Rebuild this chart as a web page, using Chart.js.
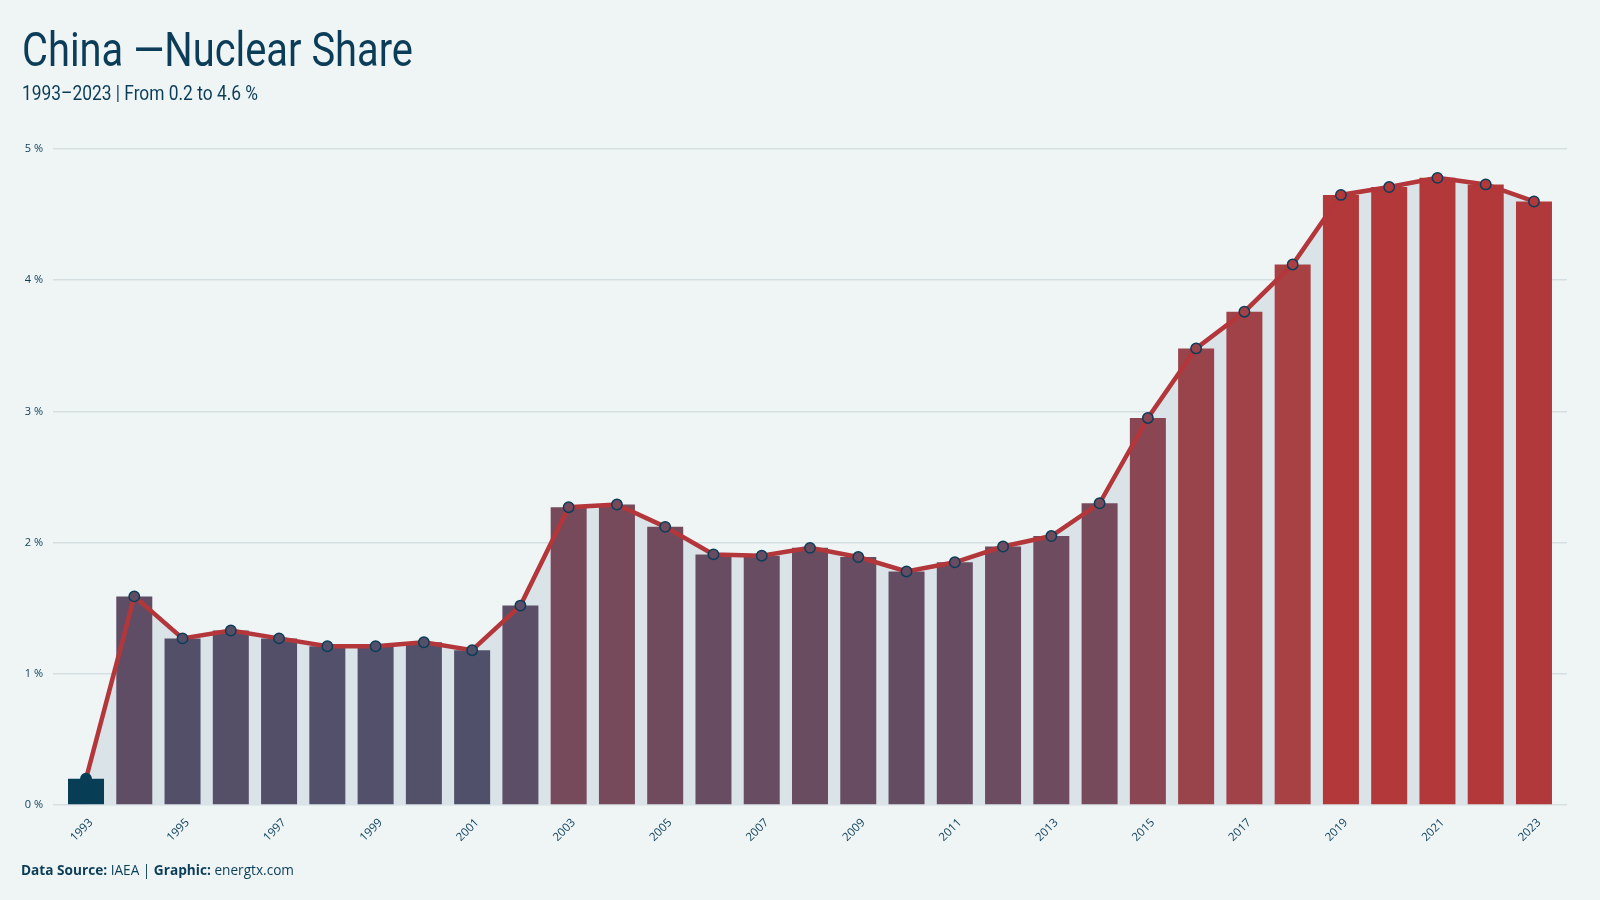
<!DOCTYPE html>
<html>
<head>
<meta charset="utf-8">
<script src="https://cdn.jsdelivr.net/npm/chart.js@4.4.1/dist/chart.umd.min.js"></script>
<style>
  html, body { margin: 0; padding: 0; background: #eff5f5; }
  #wrap { position: relative; width: 1600px; height: 900px; background: #eff5f5; overflow: hidden; }
  #chart { position: absolute; left: 0; top: 0; width: 1600px; height: 900px; }
  .txt { position: absolute; white-space: nowrap; color: #0b3d59; transform-origin: 0 0; }
  #title { left: 22px; top: 26px; font: 400 48px/48px Roboto, sans-serif; }
  #subtitle { left: 22px; top: 83px; font: 400 20px/20px Roboto, sans-serif; }
  #footer { left: 21px; top: 863px; font: 400 14.5px/14.5px "Open Sans", sans-serif; }
  #footer b { font-weight: 700; }
</style>
</head>
<body>
<div id="wrap">
  <canvas id="chart" width="1600" height="900"></canvas>
  <div id="title" class="txt" data-w="391">China —Nuclear Share</div>
  <div id="subtitle" class="txt" data-w="236">1993–2023 | From 0.2 to 4.6 %</div>
  <div id="footer" class="txt" data-w="273"><b>Data Source:</b> IAEA | <b>Graphic:</b> energtx.com</div>
</div>
<script>
// ---- data ----
const years = [1993, 1994, 1995, 1996, 1997, 1998, 1999, 2000, 2001, 2002,
               2003, 2004, 2005, 2006, 2007, 2008, 2009, 2010, 2011, 2012,
               2013, 2014, 2015, 2016, 2017, 2018, 2019, 2020, 2021, 2022, 2023];
const nuclearShare = [0.20, 1.59, 1.27, 1.33, 1.27, 1.21, 1.21, 1.24, 1.18, 1.52,
                      2.27, 2.29, 2.12, 1.91, 1.90, 1.96, 1.89, 1.78, 1.85, 1.97,
                      2.05, 2.30, 2.95, 3.48, 3.76, 4.12, 4.65, 4.71, 4.78, 4.73, 4.60];
const xTickYears = [1993, 1995, 1997, 1999, 2001, 2003, 2005, 2007, 2009, 2011,
                    2013, 2015, 2017, 2019, 2021, 2023];
const yTickValues = [0, 1, 2, 3, 4, 5];

// ---- colour scale (style) ----
const colorStops = [
  [0.20, [8, 61, 86]],
  [1.20, [82, 80, 106]],
  [1.60, [95, 77, 101]],
  [1.90, [104, 76, 97]],
  [2.30, [119, 74, 91]],
  [2.95, [138, 70, 82]],
  [3.50, [154, 67, 75]],
  [4.12, [168, 65, 68]],
  [4.65, [179, 56, 58]]
];
function colorFor(v) {
  if (v <= colorStops[0][0]) return rgb(colorStops[0][1]);
  for (let i = 1; i < colorStops.length; i++) {
    const [v1, c1] = colorStops[i];
    const [v0, c0] = colorStops[i - 1];
    if (v <= v1) {
      const t = (v - v0) / (v1 - v0);
      return rgb(c0.map((c, k) => c + (c1[k] - c) * t));
    }
  }
  return rgb(colorStops[colorStops.length - 1][1]);
}
function rgb(c) { return `rgb(${c.map(Math.round).join(',')})`; }

const points = years.map((y, i) => ({ x: y, y: nuclearShare[i] }));
const barColors = nuclearShare.map(colorFor);

const navy = '#0b3d59';

new Chart(document.getElementById('chart'), {
  data: {
    datasets: [
      {
        type: 'line',
        data: points,
        borderColor: '#b3373a',
        borderWidth: 4.5,
        tension: 0,
        fill: 'origin',
        backgroundColor: '#dae4e8',
        pointRadius: 5.2,
        pointBorderWidth: 1.5,
        pointBorderColor: navy,
        pointBackgroundColor: barColors,
        order: 0
      },
      {
        type: 'bar',
        data: points,
        backgroundColor: barColors,
        borderWidth: 0,
        categoryPercentage: 1,
        barPercentage: 0.746,
        order: 1
      }
    ]
  },
  options: {
    responsive: false,
    animation: false,
    layout: { padding: { left: 0, right: 33, top: 149, bottom: 0 } },
    plugins: {
      legend: { display: false },
      tooltip: { enabled: false },
      filler: { drawTime: 'beforeDatasetsDraw' }
    },
    scales: {
      x: {
        type: 'linear',
        offset: false,
        min: years[0] - 0.684,
        max: years[years.length - 1] + 0.684,
        grid: { display: false },
        border: { display: false },
        afterBuildTicks: axis => { axis.ticks = xTickYears.map(v => ({ value: v })); },
        afterFit: axis => { axis.height = 95; },
        ticks: {
          color: navy,
          font: { family: '"Open Sans", sans-serif', size: 11.5 },
          minRotation: 45,
          maxRotation: 45,
          padding: 3,
          labelOffset: 5,
          autoSkip: false,
          callback: v => String(v)
        }
      },
      y: {
        type: 'linear',
        min: 0,
        max: 5,
        afterBuildTicks: axis => { axis.ticks = yTickValues.map(v => ({ value: v })); },
        afterFit: axis => { axis.width = 53; },
        grid: { color: '#d5dfe1', lineWidth: 1.5, drawTicks: false },
        border: { display: false },
        ticks: {
          color: navy,
          font: { family: '"Open Sans", sans-serif', size: 11 },
          padding: 10,
          callback: v => v + ' %'
        }
      }
    }
  }
});

// fit overlay text widths
function fitText() {
  document.querySelectorAll('.txt').forEach(el => {
    el.style.transform = 'none';
    const w = el.getBoundingClientRect().width;
    const target = parseFloat(el.dataset.w);
    el.style.transform = `scaleX(${target / w})`;
  });
}
fitText();
if (document.fonts && document.fonts.ready) document.fonts.ready.then(fitText);
</script>
</body>
</html>
